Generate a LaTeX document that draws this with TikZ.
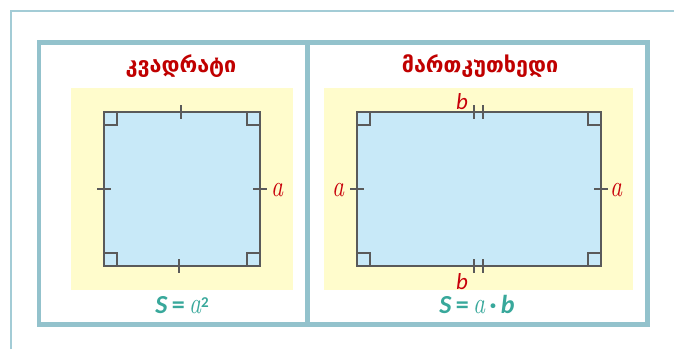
\documentclass[tikz,border=0pt]{standalone}
\usepackage{fontspec}
\newfontfamily\geofont{DejaVu Sans}
\newfontfamily\calfont{Carlito}
\definecolor{outerline}{HTML}{A3CCD6}
\definecolor{panelline}{HTML}{93C2CC}
\definecolor{yellowbg}{HTML}{FFFCCC}
\definecolor{bluefill}{HTML}{C8E9F8}
\definecolor{shapeline}{HTML}{5A5A5A}
\definecolor{titlered}{HTML}{C00000}
\definecolor{labelred}{HTML}{C8000A}
\definecolor{teal}{HTML}{38A89B}
\newcommand{\mya}{\scalebox{0.8}[1]{\fontsize{30}{32}\selectfont\itshape a}}
\begin{document}
\begin{tikzpicture}[x=1pt,y=-1pt,
  outerframe/.style={draw=outerline,line width=2.2pt},
  panel/.style={draw=panelline,line width=4.6pt},
  yellowbox/.style={fill=yellowbg},
  figshape/.style={draw=shapeline,fill=bluefill,line width=1.5pt},
  rightmark/.style={draw=shapeline,line width=1.3pt},
  tick/.style={draw=shapeline,line width=1.3pt},
  title/.style={text=titlered,font=\geofont\bfseries\fontsize{21.5}{24}\selectfont,inner sep=0pt},
  letterlabel/.style={text=labelred,inner sep=0pt},
  blabel/.style={text=labelred,font=\calfont\itshape\fontsize{23}{25}\selectfont,inner sep=0pt},
  formula/.style={text=teal,font=\fontsize{26}{28}\selectfont,inner sep=0pt}
]
\useasboundingbox (0,0) rectangle (674,349);
% outer partial frame
\draw[outerframe] (11,349) -- (11,11) -- (674,11);
% yellow backgrounds
\fill[yellowbox] (71,88) rectangle (293,289.5);
\fill[yellowbox] (324,88) rectangle (633,289.5);
% panels
\draw[panel] (39,42.5) rectangle (647.5,324.5);
\draw[panel] (307.5,42.5) -- (307.5,324.5);

% square
\draw[figshape] (104,112) rectangle (260,266);
\draw[rightmark] (104,112) rectangle (117,125);
\draw[rightmark] (260,112) rectangle (247,125);
\draw[rightmark] (104,266) rectangle (117,253);
\draw[rightmark] (260,266) rectangle (247,253);
\draw[tick] (181,105) -- (181,119);
\draw[tick] (179,259) -- (179,273);
\draw[tick] (97,189) -- (111,189);
\draw[tick] (253,189) -- (267,189);

% rectangle
\draw[figshape] (357,112) rectangle (601,266);
\draw[rightmark] (357,112) rectangle (370,125);
\draw[rightmark] (601,112) rectangle (588,125);
\draw[rightmark] (357,266) rectangle (370,253);
\draw[rightmark] (601,266) rectangle (588,253);
\draw[tick] (474,105) -- (474,119);
\draw[tick] (483,105) -- (483,119);
\draw[tick] (474,259) -- (474,273);
\draw[tick] (483,259) -- (483,273);
\draw[tick] (350,189) -- (364,189);
\draw[tick] (594,189) -- (608,189);

% titles
\node[title] (t1) at (181,66) {კვადრატი};
\node[title] (t2) at (480,66) {მართკუთხედი};

% labels
\node[letterlabel] (la1) at (277,190) {\mya};
\node[letterlabel] (la2) at (338,190) {\mya};
\node[letterlabel] (la3) at (616,190) {\mya};
\node[blabel] (lb1) at (462,102) {b};
\node[blabel] (lb2) at (462,282) {b};

% formulas
\node[formula] (f1) at (182,305) {{\calfont\bfseries\itshape S}\,{\calfont\bfseries =}\,\mya\raisebox{0.55ex}{\calfont\bfseries\fontsize{15}{16}\selectfont 2}};
\node[formula] (f2) at (477,305) {{\calfont\bfseries\itshape S}\,{\calfont\bfseries =}\,\mya\,{\calfont\bfseries\textperiodcentered}\,{\calfont\bfseries\itshape b}};
\end{tikzpicture}
\end{document}
